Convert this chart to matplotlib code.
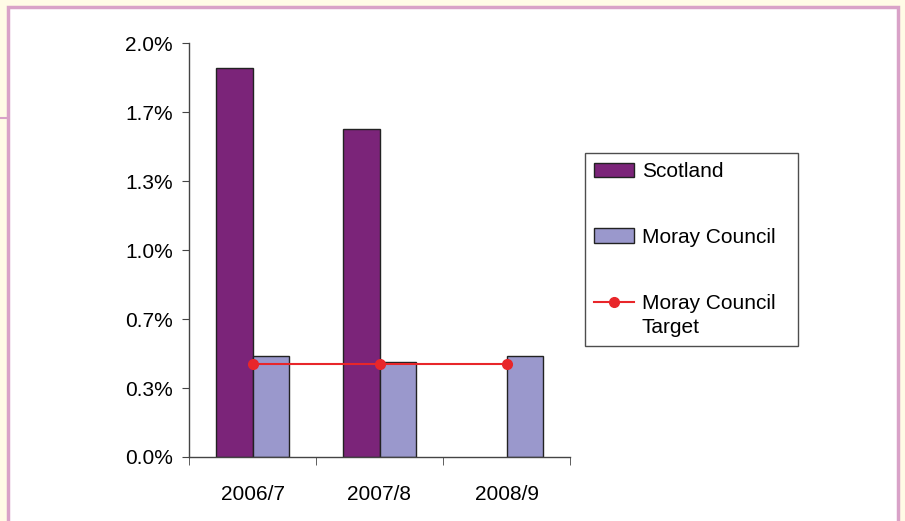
import matplotlib
matplotlib.use('Agg')
import matplotlib.pyplot as plt
import matplotlib.ticker as plticker
from matplotlib.patches import Rectangle
from matplotlib.lines import Line2D
from matplotlib.legend_handler import HandlerLine2D
import numpy as np

plt.rcParams['font.family'] = ['Liberation Sans', 'DejaVu Sans']

# data (fractions)
years = ['2006/7', '2007/8', '2008/9']
scotland = [0.01881, 0.01586, np.nan]
moray = [0.00489, 0.00457, 0.00489]
target = [0.00449, 0.00449, 0.00449]

col_scot = '#7B2479'
col_moray = '#9A98CC'
col_target = '#E8262A'
pink = '#D9A2C8'
cream = '#FFFBE6'
fs = 15
lsp = 1.35


class HandlerFirstLine(HandlerLine2D):
    # put the line handle next to the first line of a two-line label
    def create_artists(self, legend, orig_handle, xdescent, ydescent,
                       width, height, fontsize, trans):
        arts = super().create_artists(legend, orig_handle, xdescent, ydescent,
                                      width, height, fontsize, trans)
        for a in arts:
            a.set_ydata(np.asarray(a.get_ydata()) + 0.5 * lsp * fontsize)
        return arts


fig = plt.figure(figsize=(9.05, 5.21), dpi=100)
fig.patch.set_facecolor(cream)

# white panel with pink border
W, H = 905, 521
fig.patches.append(Rectangle((8 / W, -0.05), (898 - 8) / W, 1.05 - 7 / H,
                             transform=fig.transFigure, facecolor='white',
                             edgecolor=pink, linewidth=2.5, zorder=-10))
fig.lines.append(Line2D([0, 8 / W], [1 - 118 / H, 1 - 118 / H],
                        transform=fig.transFigure, color=pink, linewidth=1.5,
                        zorder=-10))

ax = fig.add_axes([189 / W, 1 - 457 / H, (570 - 189) / W, (457 - 43) / H])
ax.set_facecolor('none')
ax.set_zorder(5)

x = np.arange(len(years))
width = 0.285
b1 = ax.bar(x - width / 2, scotland, width, color=col_scot, edgecolor='#222222',
            linewidth=1, label='Scotland', zorder=2)
b2 = ax.bar(x + width / 2, moray, width, color=col_moray, edgecolor='#222222',
            linewidth=1, label='Moray Council', zorder=2)
l1, = ax.plot(x, target, color=col_target, marker='o', markersize=7, linewidth=1.5,
              label='Moray Council\nTarget', zorder=3)

ax.set_xlim(-0.5, 2.5)
ax.set_ylim(0, 0.02)
ax.yaxis.set_major_locator(plticker.FixedLocator([i / 300 for i in range(7)]))
ax.yaxis.set_major_formatter(plticker.PercentFormatter(1, decimals=1))
ax.set_xticks(x, years)
ax.xaxis.set_minor_locator(plticker.FixedLocator([-0.5, 0.5, 1.5, 2.5]))
ax.tick_params(axis='x', which='major', length=0, pad=20, labelsize=fs)
ax.tick_params(axis='x', which='minor', length=6, color='#444444')
ax.tick_params(axis='y', length=5, color='#444444', labelsize=fs, pad=6.5)

for s in ['top', 'right']:
    ax.spines[s].set_visible(False)
for s in ['left', 'bottom']:
    ax.spines[s].set_color('#444444')
    ax.spines[s].set_linewidth(1)

leg = ax.legend([b1, b2, l1], ['Scotland', 'Moray Council', 'Moray Council\nTarget'],
                loc='upper left',
                bbox_to_anchor=(585 / W, 1 - 153 / H - 0.01, (798 - 585) / W, 0.01),
                bbox_transform=fig.transFigure, mode='expand', fontsize=fs, frameon=True,
                fancybox=False, edgecolor='#222222', labelspacing=2.25,
                handlelength=1.9, handleheight=0.67, borderpad=0.43,
                handletextpad=0.4, borderaxespad=0,
                handler_map={l1: HandlerFirstLine()})
leg.get_frame().set_linewidth(1)
leg.get_texts()[2].set_linespacing(lsp)

fig.savefig('out.png', dpi=100, facecolor=fig.get_facecolor())
